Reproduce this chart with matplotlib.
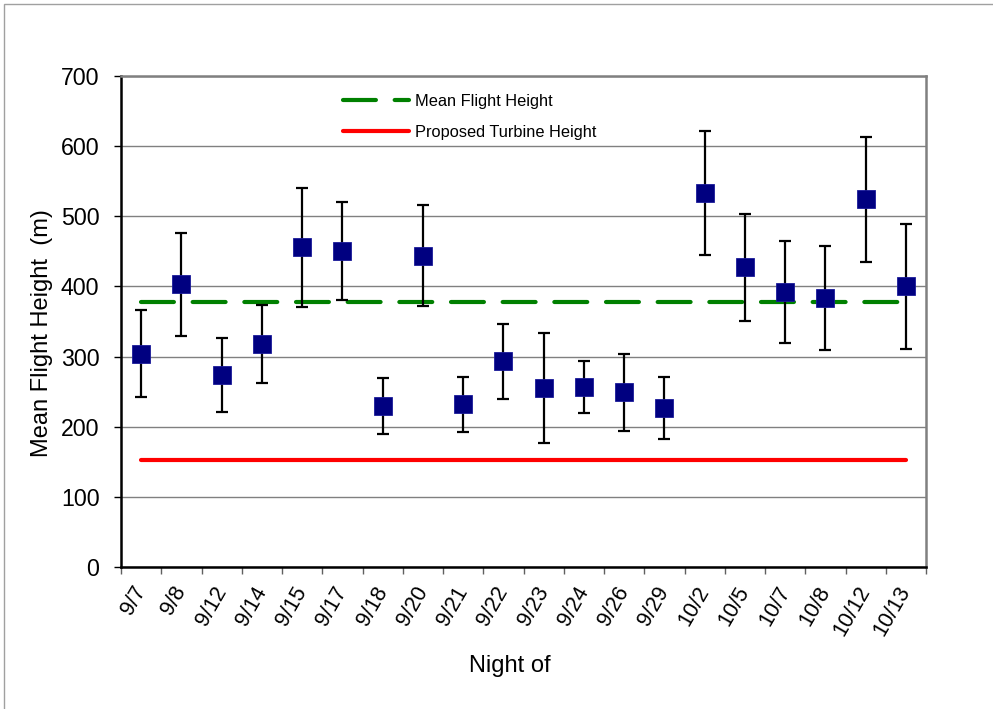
import matplotlib
matplotlib.use("Agg")
import matplotlib.pyplot as plt
from matplotlib.patches import Rectangle
import numpy as np

plt.rcParams['font.family'] = ['Liberation Sans', 'DejaVu Sans']

nights = ["9/7", "9/8", "9/12", "9/14", "9/15", "9/17", "9/18", "9/20", "9/21", "9/22",
          "9/23", "9/24", "9/26", "9/29", "10/2", "10/5", "10/7", "10/8", "10/12", "10/13"]
mean_heights = [304, 403, 274, 318, 456, 450, 229, 444, 232, 293,
                255, 256, 249, 227, 533, 427, 392, 383, 524, 400]
errors = [62, 73, 53, 55, 85, 70, 40, 72, 39, 54,
          78, 37, 55, 44, 88, 76, 73, 74, 89, 89]
overall_mean = 378
turbine_height = 152
yticks = [0, 100, 200, 300, 400, 500, 600, 700]

fig = plt.figure(figsize=(9.93, 7.09), dpi=100)
fig.patches.append(Rectangle((4/993, -0.1), 1.2, (709-4)/709 + 0.1, transform=fig.transFigure,
                             fill=False, edgecolor='#a0a0a0', linewidth=1.0, zorder=0))
ax = fig.add_axes([121/993, (709-567)/709, (926-121)/993, (567-76)/709])

x = np.arange(len(nights))

ax.plot([x[0], x[-1]], [overall_mean, overall_mean], color='#008000', linewidth=3.0,
        linestyle=(0, (7.9, 4.5)), dash_capstyle='round', zorder=2, label='Mean Flight Height')
ax.plot([x[0], x[-1]], [turbine_height, turbine_height], color='#ff0000', linewidth=3.0,
        solid_capstyle='round', zorder=2, label='Proposed Turbine Height')

ax.errorbar(x, mean_heights, yerr=errors, fmt='none', ecolor='black', elinewidth=1.6,
            capsize=4, capthick=1.6, zorder=3)
ax.plot(x, mean_heights, linestyle='none', marker='s', markersize=13.5,
        markerfacecolor='#000080', markeredgecolor='#1a1a99', markeredgewidth=0.6, zorder=4)

ax.set_xlim(-0.5, len(nights) - 0.5)
ax.set_ylim(0, 700)
ax.set_yticks(yticks)
ax.yaxis.grid(True, color='#808080', linewidth=1.0)
ax.set_axisbelow(True)

ax.set_xticks(x)
ax.set_xticklabels(nights)
ax.set_xticks(np.arange(-0.5, len(nights), 1.0), minor=True)
ax.tick_params(axis='x', which='major', length=0, pad=15, labelsize=15.5)
ax.tick_params(axis='x', which='minor', length=5, width=1.0, color='#606060')
ax.tick_params(axis='y', which='major', length=5, width=1.0, pad=10.5, labelsize=16.7)
for lab in ax.get_xticklabels():
    lab.set_rotation(60)
    lab.set_ha('right')
    lab.set_va('center')
    lab.set_rotation_mode('anchor')

for s in ['left', 'bottom']:
    ax.spines[s].set_color('black')
    ax.spines[s].set_linewidth(1.8)
for s in ['top', 'right']:
    ax.spines[s].set_color('#808080')
    ax.spines[s].set_linewidth(1.8)

ax.set_ylabel('Mean Flight Height  (m)', fontsize=17)
ax.yaxis.set_label_coords(-0.0845, 0.477)
ax.set_xlabel('Night of', fontsize=17)
ax.xaxis.set_label_coords(0.483, -0.179)

ax.legend(loc='upper left', bbox_to_anchor=(0.2758, 0.963), frameon=False, fontsize=11.8,
          handlelength=4.0, handletextpad=0.37, labelspacing=0.95, borderpad=0, borderaxespad=0)

fig.savefig('out.png', dpi=100)
